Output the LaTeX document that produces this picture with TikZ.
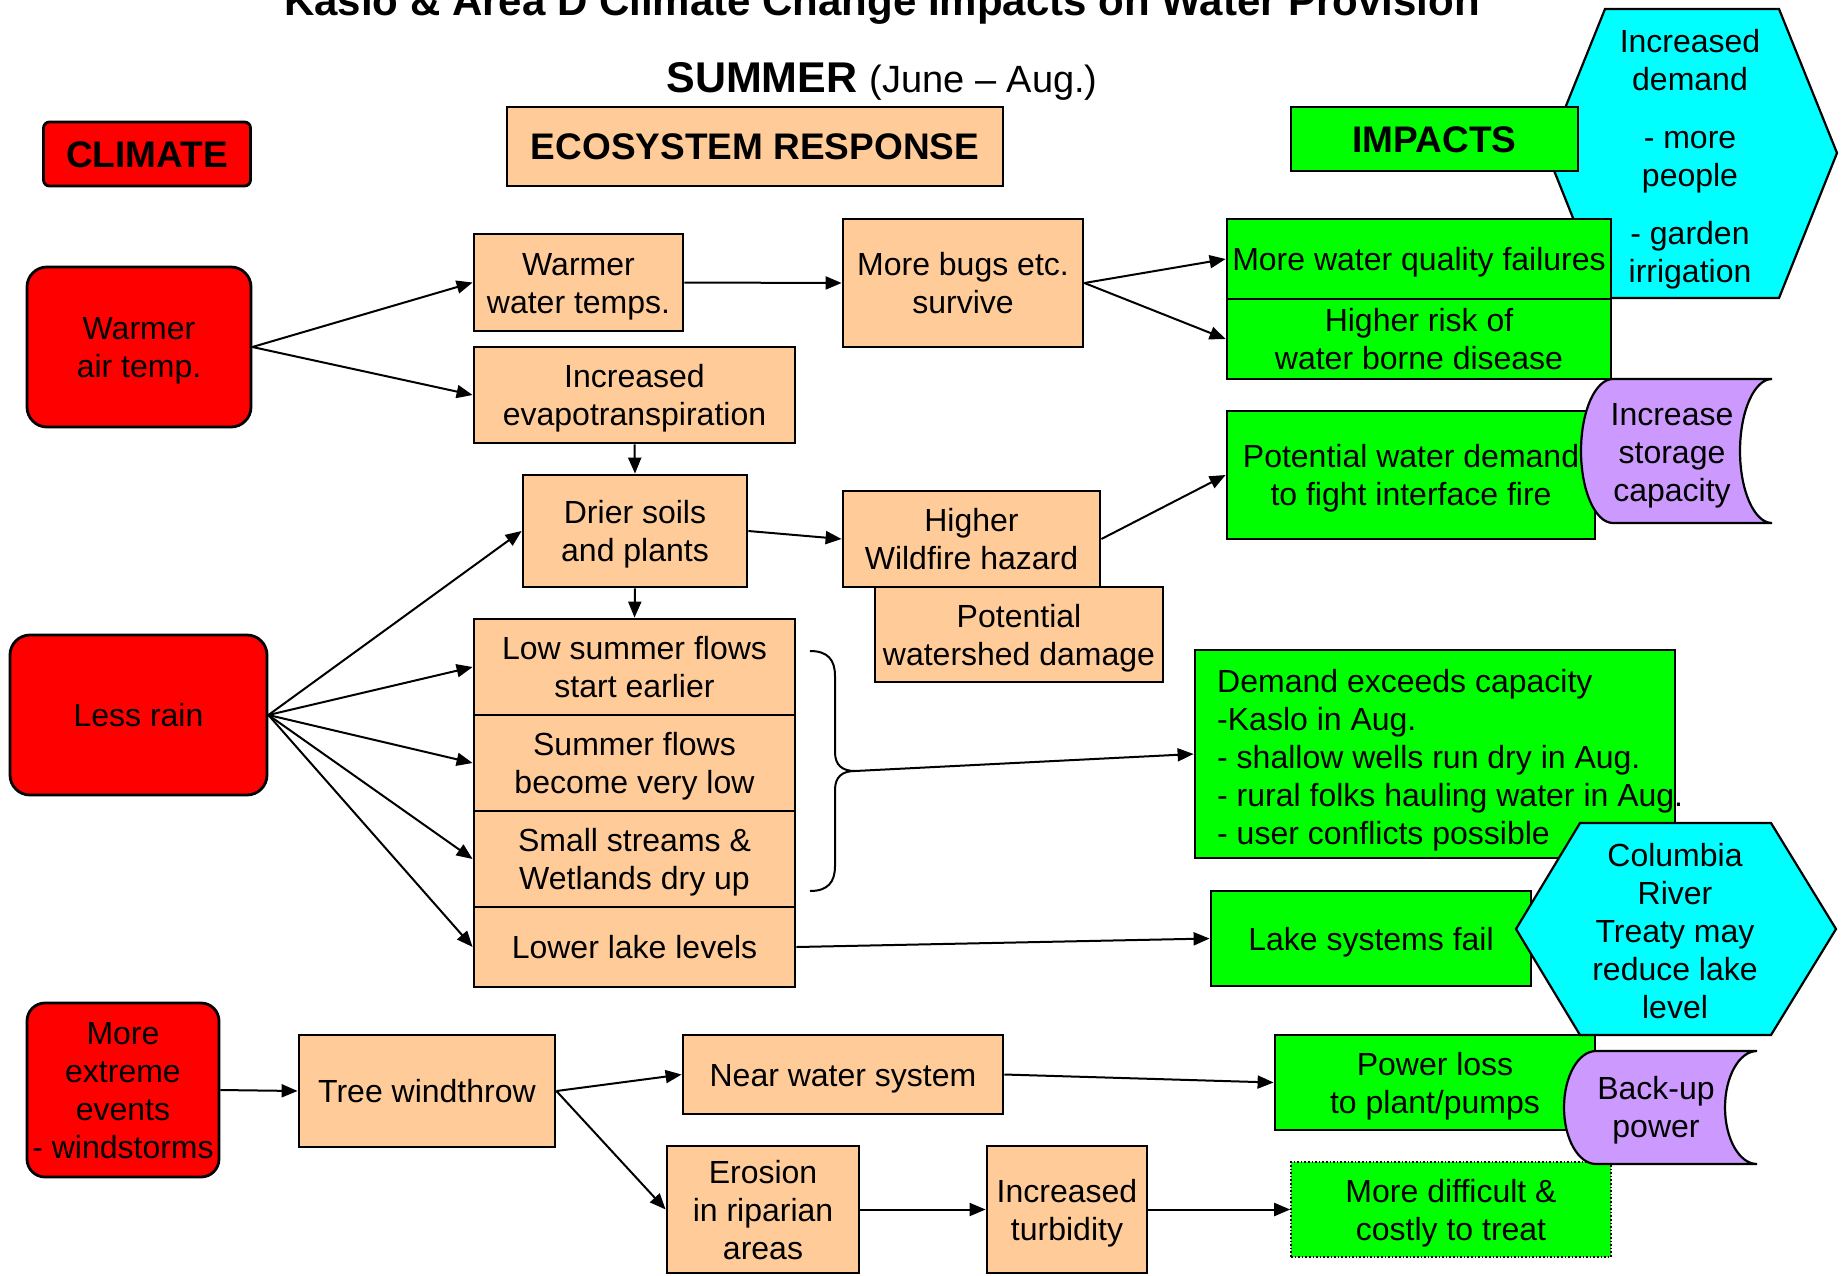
\documentclass[tikz,border=0pt]{standalone}
\usepackage{fontspec}
\setmainfont{Liberation Sans}
\usetikzlibrary{arrows.meta}
\definecolor{peach}{HTML}{FFCC99}
\definecolor{lgreen}{HTML}{00FF00}
\definecolor{lred}{HTML}{FF0000}
\definecolor{lcyan}{HTML}{00FFFF}
\definecolor{lpurple}{HTML}{CC99FF}
\newcommand\ts{\rule{0pt}{0.93em}}
\tikzset{
  bx/.style={draw, line width=2.8pt, inner sep=2pt, align=center, font=\fontsize{32}{38}\selectfont,
    execute at end node={\rule[-0.21em]{0pt}{0.21em}}},
  eco/.style={bx, fill=peach},
  imp/.style={bx, fill=lgreen},
  clim/.style={bx, fill=lred, rounded corners=20pt},
  head/.style={bx, font=\bfseries\fontsize{37}{44}\selectfont},
  shp/.style={draw, line width=2.2pt},
  txt/.style={inner sep=0pt, align=center, font=\fontsize{32}{38}\selectfont},
  arr/.style={line width=2pt, -{Triangle[length=16pt,width=13pt]}},
}
\begin{document}
\begin{tikzpicture}[x=1pt,y=-1pt]
\useasboundingbox (0,0) rectangle (1844,1275);
\fill[white] (0,0) rectangle (1844,1275);

% titles
\node[anchor=base, inner sep=0pt, font=\bfseries\fontsize{42}{50}\selectfont] (title) at (882,15) {Kaslo \& Area D Climate Change Impacts on Water Provision};
\node[anchor=base, inner sep=0pt] (season) at (882,92) {\fontsize{43}{50}\selectfont\bfseries SUMMER \fontsize{38}{45}\selectfont\mdseries (June – Aug.)};

% Increased demand hexagon (behind)
\draw[shp, fill=lcyan] (1605,9) -- (1779,9) -- (1837,153) -- (1779,298) -- (1605,298) -- (1547,153) -- cycle;
\node[txt] (demandtxt) at (1690,159) {Increased\\demand\\[20pt]- more\\people\\[20pt]- garden\\irrigation};

% headings
\node[head, fill=lred, rounded corners=6pt, minimum width=207pt, minimum height=64pt] (climhead) at (147,154) {\ts CLIMATE};
\node[head, fill=peach, minimum width=496pt, minimum height=79pt] (ecohead) at (755,146.5) {\ts ECOSYSTEM RESPONSE};
\node[head, fill=lgreen, minimum width=287pt, minimum height=64pt] (imphead) at (1434.5,139) {\ts IMPACTS};

% climate drivers
\node[clim, minimum width=224pt, minimum height=160pt] (warmair) at (139,347) {\ts Warmer\\air temp.};
\node[clim, minimum width=257pt, minimum height=160pt] (lessrain) at (138.5,715) {\ts Less rain};
\node[clim, rounded corners=18pt, minimum width=192pt, minimum height=174pt] (extreme) at (123,1090) {\ts More\\extreme\\events\\- windstorms};

% ecosystem response
\node[eco, minimum width=209pt, minimum height=97pt] (wwt) at (578.5,282.5) {\ts Warmer\\water temps.};
\node[eco, minimum width=321pt, minimum height=96pt] (evap) at (634.5,395) {\ts Increased\\evapotranspiration};
\node[eco, minimum width=240pt, minimum height=128pt] (bugs) at (963,283) {\ts More bugs etc.\\survive};
\node[eco, minimum width=224pt, minimum height=112pt] (drier) at (635,531) {\ts Drier soils\\and plants};
\node[eco, minimum width=257pt, minimum height=96pt] (fire) at (971.5,539) {\ts Higher\\Wildfire hazard};
\node[eco, minimum width=288pt, minimum height=95pt] (shed) at (1019,634.5) {\ts Potential\\watershed damage};
\node[eco, minimum width=321pt, minimum height=96pt] (low) at (634.5,667) {\ts Low summer flows\\start earlier};
\node[eco, minimum width=321pt, minimum height=96pt] (vlow) at (634.5,763) {\ts Summer flows\\become very low};
\node[eco, minimum width=321pt, minimum height=96pt] (dry) at (634.5,859) {\ts Small streams \&\\Wetlands dry up};
\node[eco, minimum width=321pt, minimum height=80pt] (lake) at (634.5,947) {\ts Lower lake levels};
\node[eco, minimum width=256pt, minimum height=112pt] (tree) at (427,1091) {\ts Tree windthrow};
\node[eco, minimum width=320pt, minimum height=79pt] (near) at (843,1074.5) {\ts Near water system};
\node[eco, minimum width=192pt, minimum height=127pt] (erosion) at (763,1209.5) {\ts Erosion\\in riparian\\areas};
\node[eco, minimum width=160pt, minimum height=127pt] (turb) at (1067,1209.5) {\ts Increased\\turbidity};

% impacts
\node[imp, minimum width=384pt, minimum height=80pt] (wq) at (1419,259) {\ts More water quality failures};
\node[imp, minimum width=384pt, minimum height=80pt] (risk) at (1419,339) {\ts Higher risk of\\water borne disease};
\node[imp, minimum width=368pt, minimum height=128pt] (fdemand) at (1411,475) {\ts Potential water demand\\to fight interface fire};
\node[imp, minimum width=480pt, minimum height=208pt] (demand) at (1435,754) {};
\node[txt, anchor=west, align=left] (demandlist) at (1217,760) {Demand exceeds capacity\\-Kaslo in Aug.\\- shallow wells run dry in Aug.\\- rural folks hauling water in Aug.\\- user conflicts possible};
\node[imp, minimum width=320pt, minimum height=95pt] (lakefail) at (1371,938.5) {\ts Lake systems fail};
\node[imp, minimum width=320pt, minimum height=95pt] (power) at (1435,1082.5) {\ts Power loss\\to plant/pumps};
\node[imp, line width=1.6pt, dotted, minimum width=320pt, minimum height=95pt] (difficult) at (1451,1209.5) {\ts More difficult \&\\costly to treat};

% adaptations
\draw[shp, fill=lpurple] (1613,379) -- (1772,379) .. controls (1754.3,379) and (1740,411.2) .. (1740,451) .. controls (1740,490.8) and (1754.3,523) .. (1772,523) -- (1613,523) .. controls (1595.3,523) and (1581,490.8) .. (1581,451) .. controls (1581,411.2) and (1595.3,379) .. (1613,379) -- cycle;
\node[txt] (storage) at (1672,456) {Increase\\storage\\capacity};

\draw[shp, fill=lcyan] (1580,823) -- (1771,823) -- (1836,929) -- (1771,1035) -- (1580,1035) -- (1516,929) -- cycle;
\node[txt] (columbia) at (1675,931) {Columbia\\River\\Treaty may\\reduce lake\\level};

\draw[shp, fill=lpurple] (1596,1051) -- (1757,1051) .. controls (1739.3,1051) and (1725,1076.3) .. (1725,1107.5) .. controls (1725,1138.7) and (1739.3,1164) .. (1757,1164) -- (1596,1164) .. controls (1578.3,1164) and (1564,1138.7) .. (1564,1107.5) .. controls (1564,1076.3) and (1578.3,1051) .. (1596,1051) -- cycle;
\node[txt] (backup) at (1656,1110) {Back-up\\power};

% brace
\coordinate (bracetip) at (855,771);
\draw[line width=2pt] (810,651) .. controls (828,651) and (835,660) .. (835,676) -- (835,752) .. controls (835,765) and (842,771) .. (bracetip) .. controls (842,771) and (835,777) .. (835,790) -- (835,866) .. controls (835,882) and (828,891) .. (810,891);

% arrows
\draw[arr] (warmair.east) -- (wwt.west);
\draw[arr] (warmair.east) -- (evap.west);
\draw[arr] (wwt.east) -- (bugs.west);
\draw[arr] (bugs.east) -- (wq.west);
\draw[arr] (bugs.east) -- (risk.west);
\draw[arr] (evap.south) -- (drier.north);
\draw[arr] (drier.east) -- (fire.west);
\draw[arr] (fire.east) -- (fdemand.west);
\draw[arr] (drier.south) -- (low.north);
\draw[arr] (lessrain.east) -- (drier.west);
\draw[arr] (lessrain.east) -- (low.west);
\draw[arr] (lessrain.east) -- (vlow.west);
\draw[arr] (lessrain.east) -- (dry.west);
\draw[arr] (lessrain.east) -- (lake.west);
\draw[arr] (lake.east) -- (lakefail.west);
\draw[arr] (bracetip) -- (demand.west);
\draw[arr] (extreme.east) -- (tree.west);
\draw[arr] (tree.east) -- (near.west);
\draw[arr] (tree.east) -- (erosion.west);
\draw[arr] (near.east) -- (power.west);
\draw[arr] (erosion.east) -- (turb.west);
\draw[arr] (turb.east) -- (difficult.west);
\end{tikzpicture}
\end{document}
